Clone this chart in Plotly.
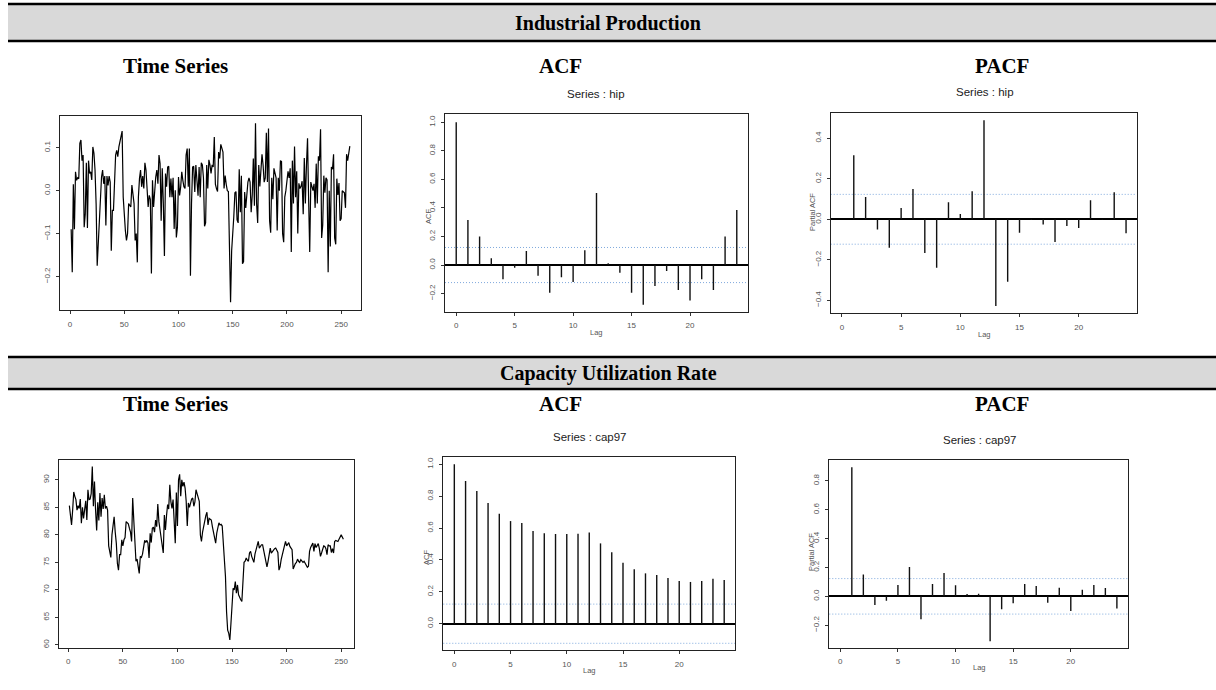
import plotly.graph_objects as go

W, H = 1216, 690

# ---------------- data ----------------
hip_ts = [
    -0.09, -0.19, 0.015, -0.09, 0.044, 0.024, 0.03, 0.028, 0.11, 0.118,
    0.07, 0.083, -0.085, -0.054, 0.065, -0.087, 0.07, 0.04, 0.044, 0.025,
    0.102, 0.087, 0.048, -0.03, -0.175, -0.116, -0.054, -0.034, 0.032, 0.048,
    0.016, 0.034, -0.081, 0.034, 0.012, 0.034, 0.02, -0.14, -0.046, -0.046,
    0.024, 0.083, 0.094, 0.079, 0.102, 0.118, 0.134, 0.139, -0.015, -0.062,
    -0.093, -0.116, -0.1, -0.03, -0.034, -0.038, 0.013, -0.015, -0.03, -0.116,
    -0.1, -0.167, -0.015, 0.028, 0.048, 0.009, 0.034, 0.005, 0.065, 0.048,
    0.001, -0.038, -0.011, -0.02, -0.193, 0.024, -0.038, 0.009, 0.032, 0.048,
    0.016, 0.083, 0.063, -0.07, 0.052, -0.03, -0.152, 0.04, 0.009, 0.055,
    0.057, -0.015, 0.028, -0.015, 0.03, -0.089, 0.001, -0.109, -0.085, 0.032,
    -0.011, 0.009, 0.044, 0.024, 0.009, 0.005, 0.083, 0.098, 0.009, 0.098,
    -0.198, -0.03, 0.055, 0.057, -0.003, 0.06, 0.02, -0.012, 0.055, -0.015,
    0.065, 0.06, 0.03, -0.083, -0.075, 0.06, 0.005, 0.072, 0.06, 0.04,
    0.06, 0.055, 0.125, 0.015, 0.005, -0.002, 0.09, 0.075, 0.108, 0.095,
    0.09, 0.005, 0.035, 0.015, 0.0, -0.002, -0.12, -0.26, -0.14, -0.11,
    -0.06, -0.005, -0.002, -0.068, -0.075, 0.05, -0.05, 0.035, -0.17, -0.165,
    -0.003, -0.04, 0.0, 0.02, 0.03, 0.02, -0.05, -0.01, 0.075, -0.035,
    0.157, -0.03, -0.075, 0.06, 0.01, 0.05, 0.085, 0.06, 0.02, 0.03,
    0.135, 0.02, 0.145, -0.07, -0.098, 0.03, -0.02, 0.052, 0.04, 0.03,
    -0.093, 0.03, 0.0, 0.07, 0.068, -0.1, -0.12, -0.015, 0.0, 0.02,
    0.045, 0.03, 0.052, -0.143, 0.07, -0.03, 0.103, -0.015, 0.045, -0.1,
    0.017, 0.005, 0.01, 0.022, -0.055, 0.076, -0.03, 0.06, 0.122, -0.02,
    -0.143, 0.02, 0.01, 0.0, 0.016, -0.04, 0.063, -0.03, 0.08, 0.07,
    0.143, -0.11, -0.08, 0.035, -0.005, 0.03, 0.025, -0.19, 0.0, -0.13,
    0.055, 0.05, 0.085, -0.11, -0.125, 0.028, -0.01, 0.018, -0.07, -0.065,
    0.0, -0.002, -0.005, -0.04, 0.085, 0.07, 0.09, 0.104,
]

cap97_ts = [
    85.3, 83.5, 81.8, 84.5, 87.8, 87.0, 86.4, 84.5, 85.3, 84.8,
    86.5, 82.1, 85.0, 83.0, 84.2, 86.2, 82.7, 88.2, 86.4, 86.5,
    87.5, 92.4, 85.2, 89.7, 84.5, 80.8, 85.9, 82.6, 87.6, 83.3,
    86.7, 84.7, 87.3, 84.8, 85.2, 84.5, 78.0, 76.4, 75.9, 80.0,
    82.4, 83.3, 80.5, 78.5, 74.8, 73.6, 76.4, 76.4, 79.1, 78.0,
    79.1, 79.5, 82.4, 82.2, 82.0, 81.2, 80.5, 78.8, 86.7, 82.7,
    78.0, 75.2, 75.6, 74.5, 73.0, 76.1, 75.9, 76.5, 77.9, 79.0,
    78.6, 79.0, 78.5, 75.8, 80.3, 78.6, 81.2, 81.4, 80.5, 82.7,
    81.5, 85.6, 82.4, 81.0, 80.0, 78.0, 76.7, 83.6, 80.9, 83.5,
    85.5, 84.7, 89.1, 86.0, 84.8, 86.4, 83.0, 78.5, 87.7, 81.6,
    90.0, 91.0, 87.0, 90.0, 88.8, 89.6, 88.5, 86.1, 81.6, 85.8,
    85.0, 85.9, 86.5, 86.7, 85.2, 86.0, 88.2, 87.5, 86.8, 86.1,
    80.0, 78.8, 80.5, 81.8, 82.7, 83.5, 84.1, 81.8, 83.0, 82.9,
    82.7, 81.5, 80.3, 79.5, 78.5, 80.3, 81.5, 82.2, 81.8, 81.9,
    81.6, 77.9, 75.0, 72.4, 66.0, 62.7, 62.1, 60.9, 63.9, 67.5,
    70.3, 70.0, 71.5, 69.4, 70.9, 69.1, 68.5, 68.2, 67.9, 71.0,
    75.0, 75.2, 75.8, 75.4, 75.2, 76.7, 77.0, 76.1, 75.5, 75.0,
    76.5, 77.3, 78.0, 78.8, 77.6, 78.0, 78.2, 78.2, 77.0, 76.1,
    75.0, 74.2, 75.2, 76.5, 77.6, 76.7, 77.0, 77.3, 77.5, 77.6,
    77.2, 76.8, 73.6, 74.2, 75.5, 76.4, 77.0, 77.6, 78.8, 78.0,
    78.3, 78.6, 77.9, 77.5, 77.3, 73.8, 74.5, 74.8, 75.0, 75.6,
    75.2, 75.0, 75.5, 75.2, 75.0, 75.2, 74.8, 74.2, 74.1, 74.3,
    77.0, 77.7, 78.0, 78.5, 77.0, 78.4, 77.7, 78.0, 78.4, 77.5,
    76.1, 76.7, 77.2, 78.0, 77.9, 77.5, 76.4, 78.2, 78.0, 78.0,
    76.8, 77.5, 76.7, 78.8, 79.0, 78.9, 78.8, 79.2, 79.6, 80.0,
    79.6, 79.2,
]

acf_lags = list(range(0, 25))
pacf_lags = list(range(1, 25))

hip_acf = [1.0, 0.315, 0.199, 0.047, -0.10, -0.019, 0.098, -0.075, -0.194, -0.086,
           -0.119, 0.103, 0.505, 0.012, -0.054, -0.194, -0.278, -0.147, -0.042, -0.175,
           -0.248, -0.10, -0.175, 0.199, 0.385]
hip_pacf = [0.316, 0.110, -0.051, -0.140, 0.056, 0.150, -0.166, -0.239, 0.084, 0.026,
            0.138, 0.489, -0.428, -0.308, -0.066, -0.003, -0.026, -0.112, -0.033, -0.043,
            0.094, -0.002, 0.133, -0.069]
cap97_acf = [1.0, 0.895, 0.833, 0.757, 0.690, 0.644, 0.632, 0.582, 0.567, 0.563,
             0.563, 0.565, 0.573, 0.504, 0.448, 0.383, 0.341, 0.316, 0.305, 0.287,
             0.268, 0.262, 0.268, 0.282, 0.274]
cap97_pacf = [0.894, 0.152, -0.060, -0.030, 0.078, 0.203, -0.159, 0.085, 0.162, 0.076,
              0.016, 0.018, -0.312, -0.090, -0.048, 0.085, 0.072, -0.044, 0.060, -0.102,
              0.046, 0.078, 0.058, -0.085]

conf_hip = 0.123
conf_cap97 = 0.123

section_titles = ["Industrial Production", "Capacity Utilization Rate"]
column_titles = ["Time Series", "ACF", "PACF"]
series_names = ["hip", "cap97"]

# ---------------- helpers ----------------
def dx(a, b):
    return [a / W, b / W]

def dy(top, bottom):
    return [1 - bottom / H, 1 - top / H]

TICKFONT = dict(family="Liberation Sans", size=8, color="#555555")

def stems(lags, vals):
    xs, ys = [], []
    for l, v in zip(lags, vals):
        xs += [l, l, None]
        ys += [0, v, None]
    return xs, ys

fig = go.Figure()

panels = [
    ("1", (60, 361), (116, 310), [-9.3, 268.3], [-0.278, 0.174],
     [0, 50, 100, 150, 200, 250], [-0.2, -0.1, 0.0, 0.1], ".1f", False),
    ("2", (445, 748), (114, 311.7), [-0.96, 24.96], [-0.327, 1.058],
     [0, 5, 10, 15, 20], [-0.2, 0.0, 0.2, 0.4, 0.6, 0.8, 1.0], ".1f", True),
    ("3", (830.7, 1136.7), (112.7, 313.3), [-0.95, 24.9], [-0.464, 0.526],
     [0, 5, 10, 15, 20], [-0.4, -0.2, 0.0, 0.2, 0.4], ".1f", True),
    ("4", (59, 354.3), (460, 647.7), [-8.5, 262], [59.5, 93.6],
     [0, 50, 100, 150, 200, 250], [60, 65, 70, 75, 80, 85, 90], "d", False),
    ("5", (443.3, 735), (456.7, 650), [-0.98, 24.96], [-0.165, 1.048],
     [0, 5, 10, 15, 20], [0.0, 0.2, 0.4, 0.6, 0.8, 1.0], ".1f", True),
    ("6", (829.3, 1128.3), (460, 647.7), [-0.955, 24.99], [-0.356, 0.945],
     [0, 5, 10, 15, 20], [-0.2, 0.0, 0.2, 0.4, 0.6, 0.8], ".1f", True),
]

layout_axes = {}
for key, xd, yd, xr, yr, xt, yt, yfmt, zl in panels:
    xname = "xaxis" if key == "1" else "xaxis" + key
    yname = "yaxis" if key == "1" else "yaxis" + key
    anchor_x = "y" if key == "1" else "y" + key
    anchor_y = "x" if key == "1" else "x" + key
    layout_axes[xname] = dict(
        domain=dx(*xd), range=xr, anchor=anchor_x, tickvals=xt,
        showline=True, mirror=True, linecolor="#222222", linewidth=1,
        ticks="outside", ticklen=3, tickcolor="#333333", tickwidth=1,
        tickfont=TICKFONT, showgrid=False, zeroline=False, ticklabelstandoff=3,
    )
    layout_axes[yname] = dict(
        domain=dy(*yd), range=yr, anchor=anchor_y, tickvals=yt, tickformat=yfmt,
        showline=True, mirror=True, linecolor="#222222", linewidth=1,
        ticks="outside", ticklen=3, tickcolor="#333333", tickwidth=1,
        tickfont=TICKFONT, tickangle=-90, showgrid=False,
        zeroline=zl, zerolinecolor="black", zerolinewidth=1.5, ticklabelstandoff=3,
    )

fig.add_trace(go.Scatter(x=list(range(1, len(hip_ts) + 1)), y=hip_ts, mode="lines",
                         line=dict(color="black", width=1.2), xaxis="x", yaxis="y",
                         showlegend=False, hoverinfo="skip"))
fig.add_trace(go.Scatter(x=list(range(1, len(cap97_ts) + 1)), y=cap97_ts, mode="lines",
                         line=dict(color="black", width=1.2), xaxis="x4", yaxis="y4",
                         showlegend=False, hoverinfo="skip"))

for key, lags, vals in [("2", acf_lags, hip_acf), ("3", pacf_lags, hip_pacf),
                        ("5", acf_lags, cap97_acf), ("6", pacf_lags, cap97_pacf)]:
    xs, ys = stems(lags, vals)
    fig.add_trace(go.Scatter(x=xs, y=ys, mode="lines", line=dict(color="#111111", width=1.4),
                             xaxis="x" + key, yaxis="y" + key, showlegend=False,
                             hoverinfo="skip"))

shapes = []
for key, c in [("2", conf_hip), ("3", conf_hip), ("5", conf_cap97), ("6", conf_cap97)]:
    for s in (1, -1):
        shapes.append(dict(type="line", xref="x" + key + " domain", yref="y" + key,
                           x0=0, x1=1, y0=s * c, y1=s * c,
                           line=dict(color="#7fa9dd", width=1, dash="1px,2px"), layer="below"))

for top, bottom in [(4, 41), (357, 389)]:
    shapes.append(dict(type="rect", xref="paper", yref="paper", x0=8 / W, x1=1,
                       y0=1 - bottom / H, y1=1 - top / H, fillcolor="#d9d9d9",
                       line=dict(width=0), layer="below"))
    for yy in (top, bottom):
        shapes.append(dict(type="line", xref="paper", yref="paper", x0=8 / W, x1=1,
                           y0=1 - yy / H, y1=1 - yy / H, line=dict(color="black", width=2.5)))

annotations = []
def txt(x, y, s, size, family, color="black", angle=0, bold=False):
    annotations.append(dict(x=x / W, y=1 - y / H, xref="paper", yref="paper",
                            text=("<b>%s</b>" % s) if bold else s, showarrow=False,
                            xanchor="center", yanchor="middle", textangle=angle,
                            font=dict(family=family, size=size, color=color)))

SERIF = "Liberation Serif"
SANS = "Liberation Sans"
txt(608, 23, section_titles[0], 20, SERIF, bold=True)
txt(608, 373, section_titles[1], 20, SERIF, bold=True)
for yrow in (66, 404):
    txt(175, yrow, column_titles[0], 21, SERIF, bold=True)
    txt(560, yrow, column_titles[1], 21, SERIF, bold=True)
    txt(1002, yrow, column_titles[2], 21, SERIF, bold=True)
txt(596, 94, "Series : " + series_names[0], 11.5, SANS, color="#222222")
txt(985, 92, "Series : " + series_names[0], 11.5, SANS, color="#222222")
txt(590, 437, "Series : " + series_names[1], 11.5, SANS, color="#222222")
txt(980, 440, "Series : " + series_names[1], 11.5, SANS, color="#222222")
txt(428, 217, "ACF", 7.5, SANS, color="#555555", angle=-90)
txt(812, 212, "Partial ACF", 7.5, SANS, color="#555555", angle=-90)
txt(426, 558, "ACF", 7.5, SANS, color="#555555", angle=-90)
txt(811, 552, "Partial ACF", 7.5, SANS, color="#555555", angle=-90)
txt(596, 332, "Lag", 7.5, SANS, color="#555555")
txt(984, 335, "Lag", 7.5, SANS, color="#555555")
txt(589, 670, "Lag", 7.5, SANS, color="#555555")
txt(979, 667, "Lag", 7.5, SANS, color="#555555")

fig.update_layout(
    width=W, height=H, margin=dict(l=0, r=0, t=0, b=0),
    paper_bgcolor="white", plot_bgcolor="white",
    shapes=shapes, annotations=annotations, showlegend=False,
    **layout_axes,
)

fig.write_html("out.html", config={"displayModeBar": False},
               post_script="document.body.style.margin='0';document.body.style.overflow='hidden';")
